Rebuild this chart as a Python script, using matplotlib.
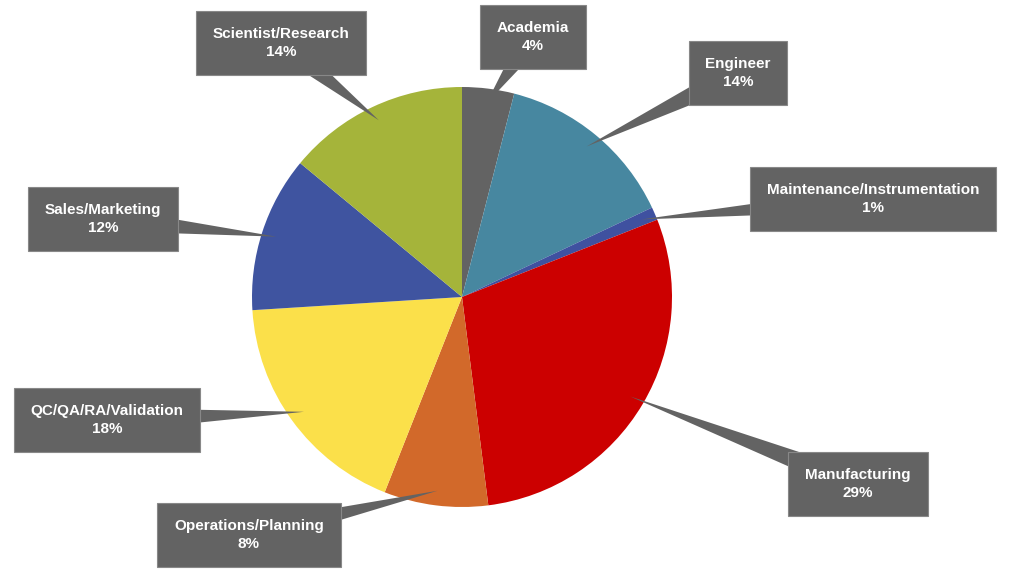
import matplotlib
matplotlib.use("Agg")
import matplotlib.pyplot as plt
import numpy as np
from matplotlib.patches import Polygon

labels = ["Academia", "Engineer", "Maintenance/Instrumentation", "Manufacturing",
          "Operations/Planning", "QC/QA/RA/Validation", "Sales/Marketing", "Scientist/Research"]
values = [4, 14, 1, 29, 8, 18, 12, 14]
colors = ["#636363", "#4787A0", "#3F51A0", "#CC0000", "#D2692A", "#FBE04A", "#3F54A0", "#A5B43A"]
# label box centers in pixels (x, y from top)
box_pos = [(533, 37), (738, 73), (873, 199), (858, 484), (249, 535), (107, 420), (103, 219), (281, 43)]

W, H = 1024, 571
fig = plt.figure(figsize=(W/100, H/100), dpi=100)
ax = fig.add_axes([0, 0, 1, 1])
ax.set_xlim(0, W); ax.set_ylim(0, H); ax.set_aspect("equal"); ax.axis("off")
cx, cy, R = 462, H - 297, 210
wedges, _ = ax.pie(values, colors=colors, startangle=90, counterclock=False,
                   center=(cx, cy), radius=R, frame=True)
ax.set_xlim(0, W); ax.set_ylim(0, H); ax.axis("off")
box_col = "#636363"
for w, lab, v, (bx, by) in zip(wedges, labels, values, box_pos):
    by = H - by
    th = np.deg2rad((w.theta1 + w.theta2) / 2)
    tip = (cx + 0.93 * R * np.cos(th), cy + 0.93 * R * np.sin(th))
    d = np.array([tip[0] - bx, tip[1] - by]); d /= np.linalg.norm(d)
    p = np.array([-d[1], d[0]]) * 12
    ax.add_patch(Polygon([(bx + p[0], by + p[1]), (bx - p[0], by - p[1]), tip],
                         closed=True, fc=box_col, ec="none", zorder=3))
    ax.text(bx, by, f"{lab}\n{v}%", ha="center", va="center", color="white",
            fontsize=11, fontweight="bold", family="Liberation Sans", zorder=4,
            linespacing=1.3,
            bbox=dict(boxstyle="square,pad=1.1", fc=box_col, ec="#888888", lw=0.8))
fig.savefig("out.png", dpi=100)
